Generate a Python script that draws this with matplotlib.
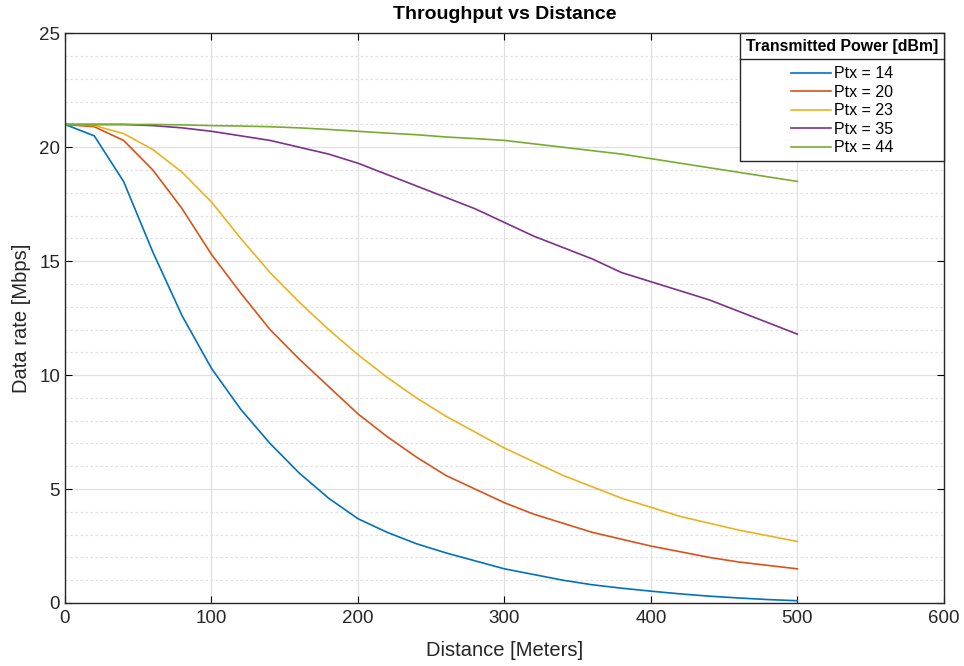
import numpy as np
import matplotlib
matplotlib.use('Agg')
import matplotlib.pyplot as plt
from matplotlib.ticker import MultipleLocator

plt.rcParams['font.family'] = ['Liberation Sans', 'DejaVu Sans']

distance = [0, 20, 40, 60, 80, 100, 120, 140, 160, 180, 200, 220, 240,
            260, 280, 300, 320, 340, 360, 380, 400, 420, 440, 460, 480, 500]

rate_14 = [21.0, 20.5, 18.5, 15.4, 12.6, 10.3, 8.5, 7.0, 5.7, 4.6, 3.7, 3.1, 2.6,
           2.2, 1.85, 1.5, 1.25, 1.0, 0.8, 0.65, 0.52, 0.4, 0.3, 0.22, 0.15, 0.1]
rate_20 = [21.0, 20.9, 20.3, 19.0, 17.3, 15.3, 13.6, 12.0, 10.7, 9.5, 8.3, 7.3, 6.4,
           5.6, 5.0, 4.4, 3.9, 3.5, 3.1, 2.8, 2.5, 2.25, 2.0, 1.8, 1.65, 1.5]
rate_23 = [21.0, 20.95, 20.6, 19.9, 18.9, 17.6, 16.0, 14.5, 13.2, 12.0, 10.9, 9.9, 9.0,
           8.2, 7.5, 6.8, 6.2, 5.6, 5.1, 4.6, 4.2, 3.8, 3.5, 3.2, 2.95, 2.7]
rate_35 = [21.0, 21.0, 21.0, 20.95, 20.85, 20.7, 20.5, 20.3, 20.0, 19.7, 19.3, 18.8, 18.3,
           17.8, 17.3, 16.7, 16.1, 15.6, 15.1, 14.5, 14.1, 13.7, 13.3, 12.8, 12.3, 11.8]
rate_44 = [21.0, 21.0, 21.0, 21.0, 20.98, 20.95, 20.93, 20.9, 20.85, 20.78, 20.7, 20.62, 20.55,
           20.45, 20.38, 20.3, 20.15, 20.0, 19.85, 19.7, 19.5, 19.3, 19.1, 18.9, 18.7, 18.5]

labels = ['Ptx = 14', 'Ptx = 20', 'Ptx = 23', 'Ptx = 35', 'Ptx = 44']
colors = ['#0072BD', '#D95319', '#EDB120', '#7E2F8E', '#77AC30']

fig = plt.figure(figsize=(9.64, 6.66), dpi=100)
ax = fig.add_axes([0.0674, 0.0946, 0.9116, 0.8554])

for y, lab, c in zip([rate_14, rate_20, rate_23, rate_35, rate_44], labels, colors):
    ax.plot(distance, y, color=c, lw=1.2, label=lab)

ax.set_xlim(0, 600)
ax.set_ylim(0, 25)
ax.xaxis.set_major_locator(MultipleLocator(100))
ax.yaxis.set_major_locator(MultipleLocator(5))
ax.yaxis.set_minor_locator(MultipleLocator(1))
ax.grid(which='major', color='#e0e0e0', lw=0.9)
ax.grid(which='minor', axis='y', color='#e0e0e0', lw=0.9, ls=(0, (2, 2)))
ax.tick_params(which='both', direction='in', labelsize=13.5, top=True, right=True,
               labelcolor='#262626')
ax.tick_params(which='minor', length=0)
ax.tick_params(which='major', length=5)
ax.tick_params(axis='x', pad=5)
for s in ax.spines.values():
    s.set_color('#262626')
    s.set_linewidth(1.0)
ax.set_axisbelow(True)

ax.set_xlabel('Distance [Meters]', fontsize=14.5, labelpad=10, color='#262626')
ax.set_ylabel('Data rate [Mbps]', fontsize=14.5, labelpad=6, color='#262626')
ax.set_title('Throughput vs Distance', fontsize=14, fontweight='bold', pad=10)

leg = ax.legend(loc='upper right', title='Transmitted Power [dBm]', fontsize=11.5,
                title_fontproperties={'weight': 'bold', 'size': 11.4},
                borderaxespad=0, fancybox=False, framealpha=1, edgecolor='#262626',
                handlelength=2.5, handletextpad=0.2, labelspacing=0.22,
                borderpad=0.35)
leg.get_frame().set_linewidth(1.0)
leg._legend_box.align = 'center'
leg._legend_box.sep = 9

fig.canvas.draw()
bb = leg.get_window_extent()
tb = leg.get_title().get_window_extent()
t0 = leg.get_texts()[0].get_window_extent()
inv = fig.transFigure.inverted()
yline = (tb.y0 + t0.y1) / 2 + 1
(x0, yl), (x1, _) = inv.transform([(bb.x0, yline), (bb.x1, yline)])
fig.add_artist(plt.Line2D([x0, x1], [yl, yl], color='#262626', lw=1.0))

fig.savefig('out.png', dpi=100)
